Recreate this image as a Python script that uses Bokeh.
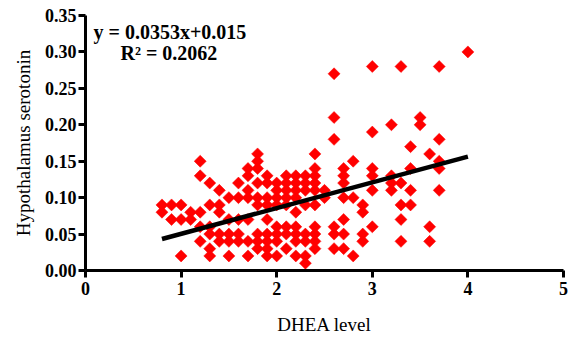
import numpy as np
from bokeh.plotting import figure
from bokeh.models import Range1d, FixedTicker, NumeralTickFormatter, Label
from bokeh.embed import file_html
from bokeh.resources import INLINE

# DHEA level (x) and hypothalamus serotonin (y), read column by column
dhea = (
    [0.8] * 2 + [0.9] * 2 + [1.0] * 3 + [1.1] * 2 + [1.2] * 5 + [1.3] * 6 +
    [1.4] * 5 + [1.5] * 5 + [1.6] * 5 + [1.7] * 7 + [1.8] * 9 + [1.9] * 9 +
    [2.0] * 8 + [2.1] * 8 + [2.2] * 9 + [2.3] * 8 + [2.4] * 10 + [2.5] * 2 +
    [2.6] * 6 + [2.7] * 7 + [2.8] * 3 + [2.9] * 4 + [3.0] * 6 + [3.2] * 4 +
    [3.3] * 5 + [3.4] * 4 + [3.5] * 2 + [3.6] * 3 + [3.7] * 5 + [4.0] * 1
)
serotonin = [
    0.09, 0.08,
    0.09, 0.07,
    0.09, 0.07, 0.02,
    0.08, 0.07,
    0.15, 0.13, 0.08, 0.06, 0.04,
    0.12, 0.09, 0.06, 0.05, 0.03, 0.02,
    0.11, 0.09, 0.08, 0.05, 0.04,
    0.10, 0.07, 0.05, 0.04, 0.02,
    0.12, 0.10, 0.07, 0.05, 0.04,
    0.14, 0.13, 0.11, 0.10, 0.07, 0.04, 0.02,
    0.16, 0.15, 0.14, 0.12, 0.10, 0.09, 0.05, 0.04, 0.03,
    0.13, 0.12, 0.10, 0.09, 0.07, 0.05, 0.04, 0.03, 0.02,
    0.12, 0.11, 0.10, 0.09, 0.06, 0.05, 0.04, 0.02,
    0.13, 0.12, 0.11, 0.10, 0.09, 0.06, 0.05, 0.03,
    0.13, 0.12, 0.11, 0.10, 0.08, 0.06, 0.05, 0.04, 0.02,
    0.13, 0.12, 0.11, 0.09, 0.05, 0.04, 0.02, 0.01,
    0.16, 0.14, 0.13, 0.12, 0.11, 0.09, 0.06, 0.05, 0.04, 0.03,
    0.11, 0.10,
    0.27, 0.21, 0.18, 0.06, 0.05, 0.03,
    0.14, 0.13, 0.12, 0.10, 0.07, 0.05, 0.03,
    0.15, 0.10, 0.02,
    0.09, 0.08, 0.05, 0.04,
    0.28, 0.19, 0.14, 0.13, 0.11, 0.06,
    0.20, 0.13, 0.12, 0.11,
    0.28, 0.12, 0.09, 0.07, 0.04,
    0.17, 0.14, 0.11, 0.09,
    0.21, 0.20,
    0.16, 0.06, 0.04,
    0.28, 0.18, 0.15, 0.14, 0.11,
    0.30,
]

slope = 0.0353
intercept = 0.015
r_squared = "0.2062"
x_ticks = [0, 1, 2, 3, 4, 5]
y_ticks = [0.0, 0.05, 0.10, 0.15, 0.20, 0.25, 0.30, 0.35]

FONT = "Liberation Serif"

p = figure(width=571, height=338, output_backend="svg", toolbar_location=None,
           x_range=Range1d(0, 5), y_range=Range1d(0, 0.35),
           min_border_left=85, min_border_right=8, min_border_top=15,
           min_border_bottom=68)
p.outline_line_color = None
p.xgrid.visible = False
p.ygrid.visible = False
p.background_fill_color = "white"
p.border_fill_color = "white"

p.scatter(dhea, serotonin, marker="square", size=8.5, angle=np.pi / 4,
          fill_color="#ff0000", line_color="#ff0000", line_width=0.5)

fx = np.array([min(dhea), max(dhea)])
p.line(fx, slope * fx + intercept, line_color="black", line_width=4.5)

for ax in (p.xaxis, p.yaxis):
    ax.axis_line_width = 3
    ax.axis_line_color = "black"
    ax.major_tick_line_width = 3
    ax.major_tick_out = 7
    ax.major_tick_in = 0
    ax.minor_tick_line_color = None
    ax.major_label_text_font = FONT
    ax.major_label_text_font_style = "bold"
    ax.major_label_text_font_size = "18px"
    ax.major_label_text_color = "black"
    ax.axis_label_text_font = FONT
    ax.axis_label_text_font_style = "normal"
    ax.axis_label_text_font_size = "19px"
    ax.axis_label_text_color = "black"

p.xaxis.ticker = FixedTicker(ticks=x_ticks)
p.yaxis.ticker = FixedTicker(ticks=y_ticks)
p.yaxis.formatter = NumeralTickFormatter(format="0.00")
p.xaxis.major_label_standoff = 4
p.yaxis.major_label_standoff = 2
p.xaxis.axis_label = "DHEA level"
p.yaxis.axis_label = "Hypothalamus serotonin"
p.xaxis.axis_label_standoff = 16
p.yaxis.axis_label_standoff = 8

eq1 = Label(x=0.084, y=0.327, text=f"y = {slope}x+{intercept}",
            text_font=FONT, text_font_style="bold", text_font_size="20px",
            text_baseline="middle", text_align="left", text_color="black")
eq2 = Label(x=0.366, y=0.298, text=f"R\u00b2 = {r_squared}",
            text_font=FONT, text_font_style="bold", text_font_size="20px",
            text_baseline="middle", text_align="left", text_color="black")
p.add_layout(eq1)
p.add_layout(eq2)

open("out.html", "w").write(file_html(p, INLINE))
